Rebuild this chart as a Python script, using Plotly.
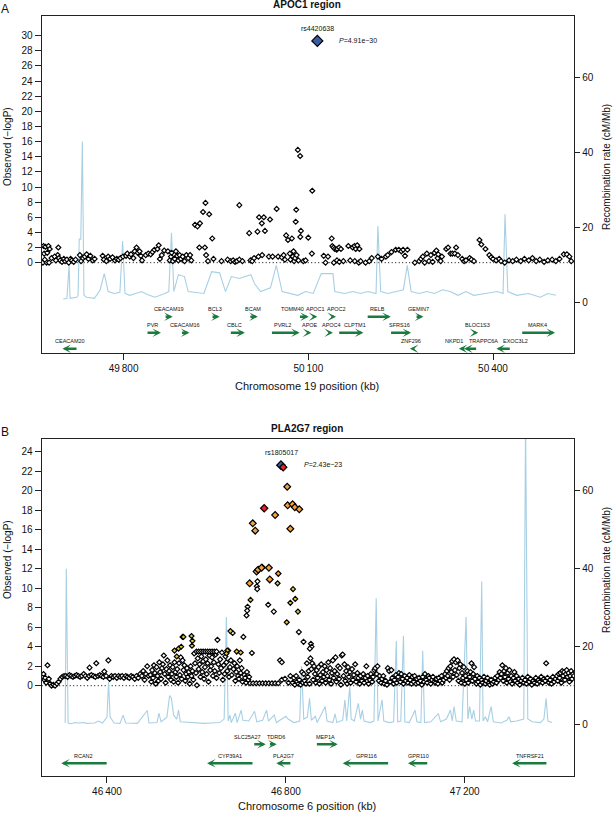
import plotly.graph_objects as go

W, H = 614, 815
FONT = "Liberation Sans, Arial, Helvetica, sans-serif"

# ---------------- Panel A : APOC1 region (chr19) ----------------
a_snp_kb = [49670,49673,49678,49671,49676,49680,49669,49675,49679,49683,49672,
            49694,49693,49695,49697,49700,49703,49705,49708,49711,49714,49716,49719,49722,49688,49690,
            49729,49731,49734,49737,49740,49743,49746,49750,49753,
            49766,49768,49772,49775,49778,49782,49786,49789,49792,49795,49799,
            49804,49806,49810,49812,49816,49818,49821,49823,49826,49828,49830,
            49836,49840,49844,49847,49850,49855,49857,49859,49862,
            49866,49872,49875,49877,49878,49880,49883,49885,49887,49889,49891,49893,49896,49899,49902,49905,49908,49910,
            49916,49920,49924,49923,49929,49933,49932,49934,49937,49939,49944,49946,
            49959,49969,49974,49978,49981,49984,49988,49988,49993,
            50004,50006,50009,50012,50017.5,50020,50024.5,50027.7,50029.6,50019,50025,50037.8,50036,50042,50048.6,50051,
            50057,50060,50062,50064,50067,50070,50071,50073.4,50075,50076,50077,50078.5,50080.4,50079.5,50083,50086.7,50087,50088,50081,50084,50092,50095.6,50100,50106.4,50105.8,
            50125,50128,50132,
            50138,50139,50141,50143,50146,50147,50150,50153,50141.5,50146.5,50150.5,50157,
            50165,50168,50172,50175,50177,50179.5,50183,50175.5,50182,50185,
            50193,50199,50203,
            50213,50219,50226,50229,50235,50242,50247,50251,50254,50257,50261,
            50273,50280,50283,50286,50289,50292.5,50296,50299,50302,50305,50308,50310,50311,50315,50317,
            50324,50327,50331,50334,50338,50340,50343,50350,50353,50356,50362,50365,50369,
            50378,50381,50387.7,50394,50397,50400,50405,50410,
            50413,50419,50426,50432,50438,50445,50451,50458,50464,50470,50476,50483,50489,50496,50502,50508,50515,50520,50524,50527]
a_snp_logp = [2.2,2.1,2.2,1.2,1.3,1.8,0.0,0.0,0.0,0.6,0.4,
              2.0,1.0,0.6,0.3,0.1,0.5,0.2,0.4,0.0,0.5,0.3,0.1,0.4,0.8,0.3,
              1.0,0.2,0.6,0.8,1.1,0.5,0.9,0.3,0.5,
              0.9,0.4,0.2,0.8,0.5,0.7,0.3,0.5,0.4,0.6,0.8,
              0.9,1.2,0.8,1.1,0.6,1.5,2.0,1.3,1.5,0.9,0.3,
              1.0,1.2,1.1,1.4,1.7,1.8,2.3,0.5,1.0,
              1.6,1.5,0.3,0.8,1.3,0.2,0.5,1.5,0.9,0.3,1.0,0.5,0.8,0.2,1.0,0.6,1.0,0.3,
              5.0,4.8,5.2,2.0,6.7,7.9,2.0,1.0,0.2,6.4,3.2,0.5,
              0.2,0.4,0.2,0.3,0.1,0.2,0.4,7.6,0.2,
              3.9,0.3,0.2,0.6,4.1,6.0,5.2,6.0,4.2,0.8,1.0,5.7,0.8,0.8,7.1,0.8,
              0.7,1.0,0.4,3.6,3.0,1.2,0.4,3.2,0.8,1.5,0.2,0.6,7.0,5.4,14.9,14.1,3.4,4.2,1.0,0.3,0.2,0.3,3.3,9.5,1.2,
              0.9,0.0,0.8,
              3.2,2.2,2.0,1.8,1.7,1.8,2.0,1.8,0.0,0.3,0.1,0.2,
              2.2,0.3,2.0,2.2,1.8,2.3,1.8,0.2,0.0,0.2,
              0.0,0.2,0.6,
              0.8,0.5,0.8,1.0,1.4,1.7,1.7,1.5,1.7,0.9,1.7,
              0.0,0.2,0.5,0.8,0.0,1.2,0.2,1.0,0.1,1.3,1.6,0.6,1.1,0.2,0.8,
              1.8,2.0,1.2,1.2,1.2,2.0,1.0,0.5,0.2,0.3,0.6,0.4,0.2,
              3.0,2.4,1.8,1.0,0.7,0.5,0.3,0.5,
              0.2,0.0,0.3,0.2,0.4,0.2,0.5,0.3,0.6,0.2,0.4,0.1,0.3,0.4,0.2,0.5,1.1,1.1,0.8,0.2]
a_top_kb = [50114.7]
a_top_logp = [29.31]
a_top_name = "rs4420638"
a_top_p = "4.91e\u221230"

a_rec_kb = [49702,49708,49711.5,49713,49724,49726,49728,49730.5,49733,49735.6,49740,49752.7,49762,49768.6,49775,
            49784.5,49794,49798.4,49802.3,49810,49819.4,49829,49838.5,49851,49867,49873.4,49877.8,49881.6,49889,
            49898.8,49905,49917.8,49930.5,49943,49956,49965.5,49975,49987.7,50006.7,50013,50022.6,50038.5,50048,
            50057.5,50070,50083,50095.6,50108,50121,50140,50143,50159,50172,50184.5,50197,50210,50213,50217.5,
            50229,50241.7,50254.4,50260.7,50267,50279.8,50292.5,50305,50318,50330.6,50343,50356,50368.7,50387.7,
            50406.8,50416.3,50419.5,50424,50438.5,50457.6,50476.6,50489.3,50502]
a_rec_rate = [1.0,1.2,10,1.2,1.5,2,17,17,43,2,1.5,1.2,3.5,7.8,3,
              2.5,2.8,16.5,2.5,2,2.5,3,2.2,1.5,2.5,3,18.7,3,7.5,
              7,3,2.8,2.5,8.3,8.0,3,7,6.5,7.5,5,3,4,10,
              3,2.5,2,3,2.5,7.8,7.8,3,2.5,3,2.5,3,2.5,20.5,3,
              2.5,3,3.5,10,3,2.5,3,2.5,3.5,3,2,3,2,2.5,
              3,2.5,23.6,3,2,2.5,1.5,2.5,2]

a_gene_name = ["CEACAM19","BCL3","BCAM","TOMM40","APOC1","APOC2","RELB","GEMIN7",
               "PVR","CEACAM16","CBLC","PVRL2","APOE","APOC4","CLPTM1","SFRS16","BLOC1S3","MARK4",
               "CEACAM20","ZNF296","NKPD1","TRAPPC6A","EXOC3L2"]
a_gene_start = [49865.8,49942,50003.5,50084,50105,50135.6,50194,50273.4,
                49836.5,49892.4,49971.8,50038.5,50095.6,50130.6,50147.7,50232,50368.7,50445,
                49700.7,50265,50344.5,50353,50405.5]
a_gene_end = [49879.7,49956,50018,50100.7,50114.7,50145,50234,50287,
              49860.7,49907,49997,50086,50105,50140,50189.6,50267,50376,50500.8,
              49726,50272,50356,50375,50429.6]
a_gene_strand = [1]*18 + [-1]*5
a_gene_row = [0]*8 + [1]*10 + [2]*5
a_gene_label_kb = [49873,49948,50010,50075,50112,50146,50213,50278.5,
                   49846.7,49900,49980,50057.5,50102,50137.5,50176,50248,50374,50472,
                   49713,50267,50337,50384.5,50437]

a_xtick_vals = [49800, 50100, 50400]
a_xtick_text = ["49\u2009800", "50\u2009100", "50\u2009400"]

# ---------------- Panel B : PLA2G7 region (chr6) ----------------
b_white_kb = [46256,46258,46260,46262,46264,46267,46270,46273,46276,46280,46284,46288,46292,46296,46300,46304,46308,
              46312,46316,46320,46324,46328,46332,46336,46340,46344,46348,46352,46356,46360,46361,46365,46370,46374,
              46376,46380,46384,46388,46392,46394,46398,46403,46406,46410,46414,46418,46422,46426,46430,46434,46438,
              46442,46446,46450,46454,46458,46462,46466,46470,46474,46478,46481,46484,46487,46490,46493,
              46497,46499,46501,46503,46505,46507,46509,46511,46513,46515,46517,46519,46521,46523,46525,46527,46529,
              46531,46533,46535,46537,46539,46541,46543,46545,46547,46549,46551,46553,46555,46557,46559,46561,46563,
              46565,46567,46569,46571,46573,46575,46577,46579,46581,46583,46585,46587,46589,46591,46593,46595,46597,
              46599,46601,46603,46605,46607,46609,46611,46613,46615,46617,46619,46621,46623,46625,46627,46629,46631,
              46633,46635,46637,46639,46641,46643,46645,46647,46649,46651,46653,46655,46657,46659,46661,46663,46665,
              46667,46669,46671,46673,46675,46677,46679,46681,46683,46685,46687,46689,46691,46693,46695,46697,46699,
              46701,46703,46705,46707,46709,46711,46713,46716,46718,
              46600,46605,46610,46615,46620,46625,46630,46635,46640,46645,
              46714.4,46713.5,46712,46735,46736,46736.5,46760.5,46773,46829,46839.5,46856,46857.5,46853.6,46724,
              46787,46791,46791,46798,46720,46727,46734,46741,46748,46755,46762,46769,46776,46783,46806,46810,
              46815,46818,46820,46823,46825,46828,46830,46833,46836,46838,46840,46842,46845,46847,46849,46851,46853,
              46855,46857,46859,46861,46863,46865,46867,46869,46871,46873,46875,46877,46879,46881,46883,46885,46887,
              46889,46891,46893,46895,46897,46899,46901,46903,46905,46907,46909,46911,46913,46915,46917,46919,46921,
              46923,46925,46927,46929,46931,46933,46935,46937,46939,46941,46943,46945,46948,46950,46952,46955,46957,
              46960,46962,46965,46967,46970,46973,46975,46978,46980,46983,46985,46988,46990,46993,46995,46998,47000,
              47003,47005,47008,47010,47013,47015,47018,47020,47023,47026,47028,47031,47033,47036,47038,47041,47043,
              47046,47048,47051,47053,47056,47058,47061,47063,47066,47068,47071,47073,47076,47078,47081,47083,47086,
              47088,47091,47093,47096,47098,47101,47104,47106,47109,47111,47114,47116,47119,47121,47124,47127,47129,
              47132,47135,47137,47140,47142,47145,47148,47150,47153,47156,47158,47160,47162,47164,47166,47168,47170,
              47172,47174,47176,47178,47180,47182,47184,47186,47188,47190,47192,47194,47196,47198,47200,47202,47204,
              47206,47208,47211,47213,47215,47217,47219,47221,47223,47226,47228,47230,47233,47235,47238,47240,47243,
              47246,47248,47251,47254,47256,47259,47262,47265,47268,47271,47273,47276,47278,47280,47282,47284,47286,
              47288,47290,47292,47294,47296,47298,47300,47302,47304,47306,47309,47311,47313,47316,47318,47321,47323,
              47326,47329,47332,47335,47338,47341,47344,47347,47350,47353,47356,47359,47362,47365,47368,47371,47374,
              47377,47380,47382,47385,47388,47391,47394,47397,47400,47403,47406,47408,47410,47412,47414,47416,47418,
              47420,47422,47424,47426,47428,47430,47432,47434,47436,47438,47440,47442,47444]
b_white_logp = [0.9,1.2,0.6,0.8,0.3,2.1,0.7,0.2,0.0,0.1,0.0,0.2,0.4,0.7,0.9,1.0,1.0,
                0.9,1.1,1.0,0.9,1.0,1.1,1.0,0.9,1.0,1.2,1.0,0.8,1.0,1.85,1.1,1.0,0.9,
                2.3,1.0,1.1,1.0,0.9,1.45,1.0,2.6,0.7,1.0,0.9,1.0,0.8,1.0,0.9,1.0,0.8,
                1.0,0.9,0.8,1.0,0.9,0.7,1.0,0.8,1.2,1.0,1.5,0.6,1.2,2.0,1.0,
                1.1,0.4,1.6,0.8,2.1,1.3,0.2,1.9,1.0,0.5,2.4,1.4,0.7,1.8,2.2,3.1,1.2,
                0.3,1.7,2.6,0.9,1.5,2.1,0.6,1.2,1.9,0.4,2.4,1.4,0.9,1.7,0.3,2.3,1.1,
                2.9,0.7,2.6,1.6,2.1,0.5,1.2,1.8,0.9,1.4,0.2,2.0,1.0,1.5,0.6,3.3,2.3,
                1.3,0.05,2.8,1.7,2.2,0.9,3.0,1.4,2.5,0.7,1.9,2.7,1.2,2.3,0.4,3.1,1.6,
                2.0,2.9,1.0,2.4,1.5,3.2,0.8,4.7,2.2,1.3,2.7,1.8,3.4,0.6,2.1,1.2,3.0,
                2.4,1.5,3.6,0.9,1.9,2.6,1.1,5.4,1.7,2.3,0.5,1.4,2.0,1.0,0.7,2.6,1.3,
                1.8,0.4,5.0,1.1,0.8,0.3,1.4,0.6,0.9,
                3.5,3.5,3.5,3.5,3.5,3.5,3.5,3.5,3.5,3.5,
                8.1,7.7,7.2,10.2,9.9,10.7,8.3,7.6,5.5,4.5,4.3,4.0,3.8,3.35,
                2.6,2.4,0.6,0.7,0.25,0.25,0.25,0.25,0.25,0.25,0.25,0.25,0.25,0.25,0.3,1.0,
                0.3,0.8,0.1,1.0,0.4,0.2,0.6,0.1,1.4,0.3,1.2,0.5,0.2,2.3,0.9,1.5,0.2,
                2.8,1.7,2.3,0.6,2.0,1.2,0.3,1.6,0.8,1.9,0.2,1.1,2.2,0.5,1.4,0.9,2.0,
                0.3,1.6,1.0,2.4,0.6,1.8,0.2,1.3,2.6,0.8,1.5,2.9,0.4,1.2,2.0,0.7,1.8,
                0.1,3.1,3.2,1.0,2.2,0.5,1.5,0.2,1.9,0.9,1.4,0.3,1.7,0.6,1.1,2.2,0.4,
                1.3,0.8,0.2,1.0,0.5,1.2,0.3,0.8,2.0,1.0,0.2,0.6,1.2,0.4,0.9,1.6,1.8,
                1.2,2.0,0.5,1.0,0.3,0.7,1.0,0.2,0.5,0.1,1.8,1.5,0.4,1.6,0.8,0.2,0.6,
                1.1,0.3,0.9,1.3,0.4,1.2,0.7,0.2,1.0,0.5,0.8,0.3,1.1,0.6,0.2,0.9,0.4,
                1.0,0.2,0.7,0.3,0.8,0.5,0.1,0.9,0.4,1.2,0.6,0.3,1.0,0.8,0.2,0.6,0.9,
                0.4,0.3,0.7,0.2,0.8,0.5,1.0,0.3,0.6,1.2,0.8,1.5,1.0,1.8,0.6,2.0,1.4,
                2.5,0.9,2.7,1.6,2.4,1.1,2.6,0.5,1.8,2.2,0.3,1.3,0.8,1.9,0.2,1.0,0.6,
                1.5,0.3,0.9,1.4,2.3,0.5,1.2,1.9,0.7,0.2,1.0,0.4,0.8,0.1,0.6,0.3,0.9,
                0.2,0.5,0.8,0.3,0.1,0.6,0.2,0.4,0.8,0.3,1.0,0.6,1.4,0.8,1.2,2.1,0.5,
                1.5,0.9,1.8,0.3,1.3,0.7,1.6,0.4,1.0,0.2,0.8,1.4,0.5,1.0,0.3,0.7,0.1,
                0.5,0.8,0.3,0.6,0.2,0.9,0.4,0.7,0.1,0.5,0.3,0.8,0.2,0.6,0.4,0.9,0.3,
                0.7,0.5,2.3,0.8,0.3,0.6,0.2,0.9,0.4,0.7,1.0,0.5,1.2,0.8,1.3,0.3,1.5,
                1.0,1.4,0.6,1.2,1.6,0.9,1.3,0.4,1.0,1.5,0.7,1.2,1.0]
b_yellow_kb = [46551,46560,46566,46569,46571,46589,46591,46590,46556,46669,46667,46690,46699,46676,
               46721,46747,46781.5,46816,46821,46810,46827,46802]
b_yellow_logp = [3.6,3.8,4.0,5.0,5.0,5.1,4.6,4.1,3.0,3.6,3.3,3.5,3.4,5.6,
                 8.8,12.2,10.5,9.9,8.9,8.5,7.6,6.5]
b_orange_kb = [46803,46776,46804,46815,46820,46830,46726,46731.5,46810,46734.5,46738,46745.7,46762,46719,46764]
b_orange_logp = [20.4,17.5,18.5,18.6,18.3,18.1,16.65,15.9,16.1,11.7,11.9,12.1,12.1,10.5,10.9]
b_orsmall_kb = [46783]
b_orsmall_logp = [11.5]
b_red_kb = [46751.5, 46794]
b_red_logp = [18.2, 22.4]
b_top_kb = [46789]
b_top_logp = [22.61]
b_top_name = "rs1805017"
b_top_p = "2.43e\u221223"

b_rec_kb = [46306.5,46309,46313,46320,46328,46337,46346,46355,46372,46381,46390,46400,46403.5,46407,46416,46429,
            46436,46442,46468,46490,46494,46512,46516,46521,46534,46540,46544,46549,46556,46560,46564,46582,46599,
            46617,46634,46652,46662,46667,46671,46675,46678,46687,46691,46700,46704,46717,46730,46735,46748,46757,
            46761,46774,46779,46792,46800,46805,46818,46831,46835,46840,46848,46853,46857,46866,46870,46888,46892,
            46905,46910,46914,46927,46932,46936,46943,46946,46953,46962,46967,46971,46975,46988,46997,47002,47006,
            47015,47019,47032,47041,47047,47050,47057,47063,47066,47076,47089,47093,47102,47106,47110,47124,47141,
            47146,47159,47168,47172,47176,47181,47194,47203,47207,47211,47216,47220,47224,47233,47238,47241,47246,
            47251,47259,47264,47281,47294,47299,47303,47316,47332,47336,47341,47351,47369,47377,47382,47386,47395]
b_rec_rate = [0.5,40,0.5,0.3,0.6,0.5,0.6,0.4,0.5,1.0,0.5,2,11,2,0.5,0.4,
              2.5,0.5,0.4,3.7,0.5,0.6,3,0.8,2.0,7.5,6.9,2.5,1.5,3.8,0.8,0.6,0.5,
              0.4,0.5,0.6,1.5,27.6,1.0,2.5,0.6,3,0.6,3.8,1.2,1.0,3.5,0.8,1.2,3.8,
              1,2.5,0.6,1.5,2.2,1.5,0.6,1,15,1.5,2,6.8,1.2,2.2,0.6,4.7,1,
              0.6,2.8,0.6,1.2,6.4,1,9.8,1.5,1.0,5.5,1.5,3.8,1,0.6,1.0,32.4,1,
              6.4,1,0.6,0.8,21.5,0.8,1.0,22.8,0.8,0.6,3.8,0.8,0.6,19,0.6,0.8,2.9,
              0.8,1.5,3.8,1,4.7,1,0.8,27.6,1.5,4.7,1.5,3.8,1,1,36.7,1,2.1,
              0.8,4.7,0.8,0.5,1.2,2.1,0.8,1.0,1.5,78,1.5,0.8,0.6,1.5,6.8,1.0,0.6]

b_gene_name = ["SLC25A27","TDRD6","MEP1A","RCAN2","CYP39A1","PLA2G7","GPR116","GPR110","TNFRSF21"]
b_gene_start = [46726,46761,46866,46297.7,46623.8,46778.6,46927,47073,47305.8]
b_gene_end = [46755,46779.5,46916,46402.6,46728.7,46813.5,47032,47119.5,47386]
b_gene_strand = [1,1,1,-1,-1,-1,-1,-1,-1]
b_gene_row = [0,0,0,1,1,1,1,1,1]
b_gene_label_kb = [46714.7,46778.6,46889.6,46348,46676,46795,46979.7,47097.7,47347]

b_xtick_vals = [46400, 46800, 47200]
b_xtick_text = ["46\u2009400", "46\u2009800", "47\u2009200"]

# ---------------- layout geometry (pixels) ----------------
PX_L, PX_R = 41.7, 574.3
A_TOP, A_BOT = 16.0, 352.7
B_TOP, B_BOT = 439.0, 775.7
A_LOGP_RANGE = [-11.9, 32.6]
A_REC_RANGE = [-13.3, 76.5]
A_X_RANGE = [49667, 50532]
B_LOGP_RANGE = [-9.23, 25.3]
B_REC_RANGE = [-13.0, 73.2]
B_X_RANGE = [46254, 47445]
A_ROW_ARROW_PX = [316.7, 332.7, 348.7]
A_ROW_LABEL_PX = [309.3, 325.3, 341.3]
B_ROW_ARROW_PX = [744.3, 763.3]
B_ROW_LABEL_PX = [736.7, 756.0]

GREEN = "#1b7a3e"
BLUE_LINE = "#a8d0e4"
LINEC = "#222222"


def px_to_val(px, top, bot, rng):
    return rng[1] - (px - top) / (bot - top) * (rng[1] - rng[0])


def dom(top, bot):
    return [1 - bot / H, 1 - top / H]


fig = go.Figure()

diamond_white = dict(symbol="diamond", size=3.8, color="white", line=dict(color="black", width=1.2))

# Panel A traces
fig.add_trace(go.Scatter(x=a_rec_kb, y=a_rec_rate, xaxis="x", yaxis="y", mode="lines",
                         line=dict(color=BLUE_LINE, width=1.1), hoverinfo="skip"))
fig.add_trace(go.Scatter(x=a_snp_kb, y=a_snp_logp, xaxis="x", yaxis="y2", mode="markers",
                         marker=diamond_white))
fig.add_trace(go.Scatter(x=a_top_kb, y=a_top_logp, xaxis="x", yaxis="y2", mode="markers",
                         marker=dict(symbol="diamond", size=8.5, color="#3b5ba5",
                                     line=dict(color="black", width=1.2))))

# Panel B traces
fig.add_trace(go.Scatter(x=b_rec_kb, y=b_rec_rate, xaxis="x2", yaxis="y3", mode="lines",
                         line=dict(color=BLUE_LINE, width=1.1), hoverinfo="skip"))
fig.add_trace(go.Scatter(x=b_white_kb, y=b_white_logp, xaxis="x2", yaxis="y4", mode="markers",
                         marker=diamond_white))
fig.add_trace(go.Scatter(x=b_yellow_kb, y=b_yellow_logp, xaxis="x2", yaxis="y4", mode="markers",
                         marker=dict(symbol="diamond", size=3.8, color="#e2c73c",
                                     line=dict(color="black", width=1.2))))
fig.add_trace(go.Scatter(x=b_orsmall_kb, y=b_orsmall_logp, xaxis="x2", yaxis="y4", mode="markers",
                         marker=dict(symbol="diamond", size=4.2, color="#f2a33a",
                                     line=dict(color="black", width=1.2))))
fig.add_trace(go.Scatter(x=b_orange_kb, y=b_orange_logp, xaxis="x2", yaxis="y4", mode="markers",
                         marker=dict(symbol="diamond", size=5.2, color="#f2a33a",
                                     line=dict(color="black", width=1.2))))
fig.add_trace(go.Scatter(x=b_top_kb, y=b_top_logp, xaxis="x2", yaxis="y4", mode="markers",
                         marker=dict(symbol="diamond", size=6.6, color="#3b5ba5",
                                     line=dict(color="black", width=1.2))))
fig.add_trace(go.Scatter(x=b_red_kb, y=b_red_logp, xaxis="x2", yaxis="y4", mode="markers",
                         marker=dict(symbol="diamond", size=5.6, color="#e2262b",
                                     line=dict(color="black", width=1.2))))

xdom = [PX_L / W, PX_R / W]
common_ax = dict(showgrid=False, zeroline=False, ticks="outside", tickcolor=LINEC, tickwidth=1,
                 tickfont=dict(size=10, color="#111"))

fig.update_layout(
    width=W, height=H, margin=dict(l=0, r=0, t=0, b=0),
    paper_bgcolor="white", plot_bgcolor="white", showlegend=False,
    font=dict(family=FONT, color="#111"),
    xaxis=dict(domain=xdom, anchor="y", range=A_X_RANGE, tickvals=a_xtick_vals, ticktext=a_xtick_text,
               ticklen=6, showline=True, linecolor=LINEC, linewidth=1, mirror=True, **common_ax),
    yaxis=dict(domain=dom(A_TOP, A_BOT), anchor="x", side="right", range=A_REC_RANGE,
               tickvals=[0, 20, 40, 60], ticklen=5, showline=False, **common_ax),
    yaxis2=dict(anchor="x", overlaying="y", side="left", range=A_LOGP_RANGE,
                tickvals=list(range(0, 31, 2)), ticklen=6, showline=True, linecolor=LINEC,
                linewidth=1, mirror=True, **common_ax),
    xaxis2=dict(domain=xdom, anchor="y3", range=B_X_RANGE, tickvals=b_xtick_vals, ticktext=b_xtick_text,
                ticklen=6, showline=True, linecolor=LINEC, linewidth=1, mirror=True, **common_ax),
    yaxis3=dict(domain=dom(B_TOP, B_BOT), anchor="x2", side="right", range=B_REC_RANGE,
                tickvals=[0, 20, 40, 60], ticklen=5, showline=False, **common_ax),
    yaxis4=dict(anchor="x2", overlaying="y3", side="left", range=B_LOGP_RANGE,
                tickvals=list(range(0, 25, 2)), ticklen=6, showline=True, linecolor=LINEC,
                linewidth=1, mirror=True, **common_ax),
)

# dotted zero lines
for xr, yr in (("x domain", "y2"), ("x2 domain", "y4")):
    fig.add_shape(type="line", xref=xr, yref=yr, x0=0, x1=1, y0=0, y1=0,
                  line=dict(color="black", width=1, dash="1px,2.5px"), layer="below")

ann = []


def gene_anns(names, starts, ends, strands, rows, label_kb, arrow_px, label_px, top, bot, rng, xr, yr):
    for n, s, e, st, r, lk in zip(names, starts, ends, strands, rows, label_kb):
        ya = px_to_val(arrow_px[r], top, bot, rng)
        yl = px_to_val(label_px[r], top, bot, rng)
        tail, head = (s, e) if st > 0 else (e, s)
        ann.append(dict(x=head, y=ya, ax=tail, ay=ya, xref=xr, yref=yr, axref=xr, ayref=yr,
                        text="", showarrow=True, arrowhead=3, arrowsize=0.55, arrowwidth=2.6,
                        arrowcolor=GREEN))
        ann.append(dict(x=lk, y=yl, xref=xr, yref=yr, text=n, showarrow=False,
                        font=dict(size=5.5, color="#111"), xanchor="center", yanchor="middle"))


gene_anns(a_gene_name, a_gene_start, a_gene_end, a_gene_strand, a_gene_row, a_gene_label_kb,
          A_ROW_ARROW_PX, A_ROW_LABEL_PX, A_TOP, A_BOT, A_LOGP_RANGE, "x", "y2")
gene_anns(b_gene_name, b_gene_start, b_gene_end, b_gene_strand, b_gene_row, b_gene_label_kb,
          B_ROW_ARROW_PX, B_ROW_LABEL_PX, B_TOP, B_BOT, B_LOGP_RANGE, "x2", "y4")

# top SNP labels
ann.append(dict(x=a_top_kb[0], y=31.0, xref="x", yref="y2", text=a_top_name, showarrow=False,
                font=dict(size=7), xanchor="center", yanchor="middle"))
ann.append(dict(x=50146.4, y=a_top_logp[0], xref="x", yref="y2", text="<i>P</i>=" + a_top_p,
                showarrow=False, font=dict(size=7), xanchor="left", yanchor="middle"))
ann.append(dict(x=46790.5, y=23.9, xref="x2", yref="y4", text=b_top_name, showarrow=False,
                font=dict(size=7), xanchor="center", yanchor="middle"))
ann.append(dict(x=46835, y=22.7, xref="x2", yref="y4", text="<i>P</i>=" + b_top_p,
                showarrow=False, font=dict(size=7), xanchor="left", yanchor="middle"))


def paper_text(xpx, ypx, text, size, angle=0, bold=False, xanchor="center"):
    ann.append(dict(x=xpx / W, y=1 - ypx / H, xref="paper", yref="paper",
                    text=("<b>%s</b>" % text) if bold else text, showarrow=False,
                    textangle=angle, font=dict(size=size, color="#111"),
                    xanchor=xanchor, yanchor="middle"))


paper_text(5, 9, "A", 12)
paper_text(307, 5, "APOC1 region", 10, bold=True)
paper_text(7, 147, "Observed (\u2212logP)", 10, angle=-90)
paper_text(606, 167, "Recombination rate (cM/Mb)", 10, angle=-90)
paper_text(307, 386, "Chromosome 19 position (kb)", 11)

paper_text(5, 432, "B", 12)
paper_text(307, 428, "PLA2G7 region", 10, bold=True)
paper_text(7, 560, "Observed (\u2212logP)", 10, angle=-90)
paper_text(606, 570, "Recombination rate (cM/Mb)", 10, angle=-90)
paper_text(307, 806, "Chromosome 6 position (kb)", 11)

fig.update_layout(annotations=ann)
fig.write_html("out.html",
               config={"displayModeBar": False, "staticPlot": True},
               post_script="document.body.style.margin='0px';document.body.style.padding='0px';"
                           "document.documentElement.style.overflow='hidden';")
